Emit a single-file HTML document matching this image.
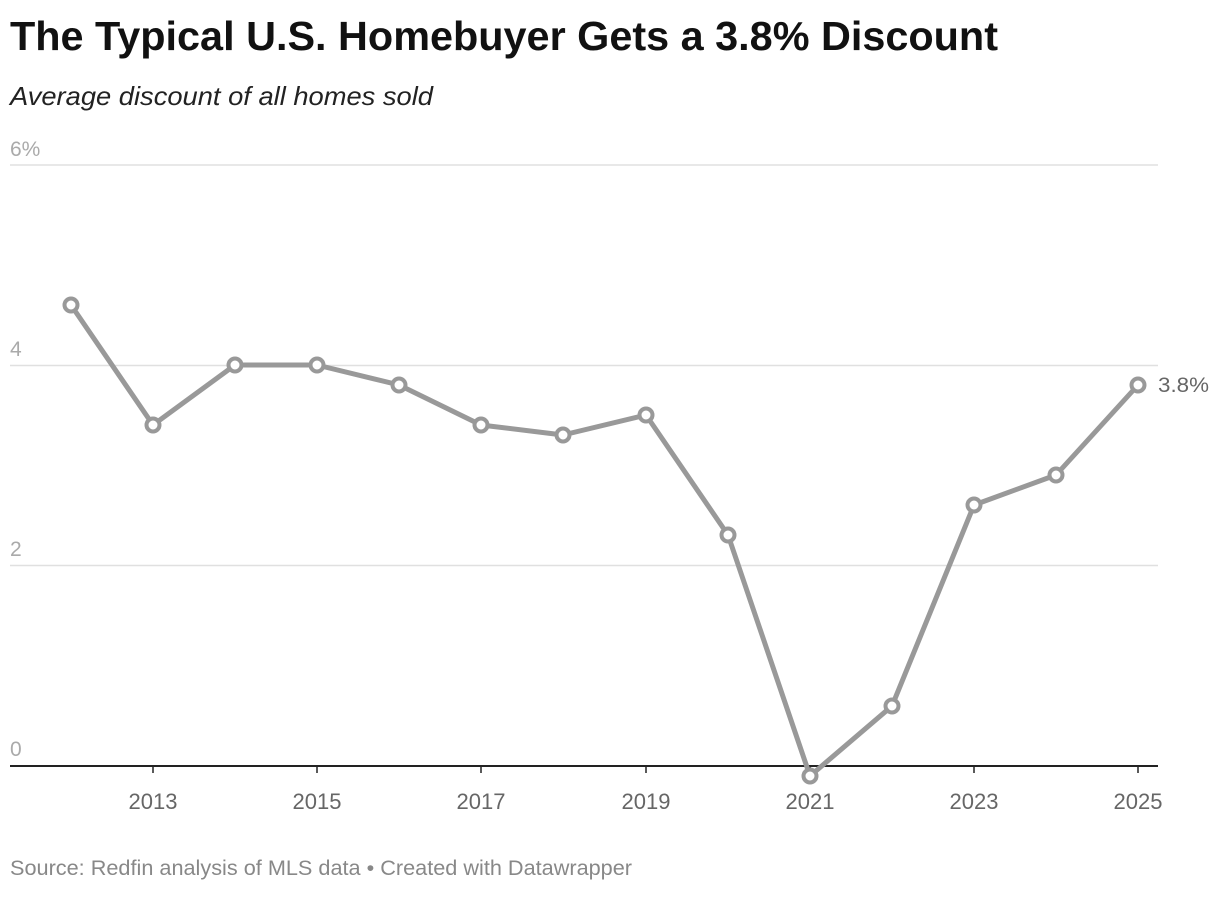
<!DOCTYPE html>
<html><head><style>
body{margin:0;background:#fff;width:1220px;height:892px;overflow:hidden;font-family:"Liberation Sans",sans-serif;}
</style></head><body>
<svg width="1220" height="892" xmlns="http://www.w3.org/2000/svg" font-family="Liberation Sans, sans-serif">
<text x="10" y="50" font-size="41" font-weight="bold" fill="#111" textLength="988" lengthAdjust="spacingAndGlyphs">The Typical U.S. Homebuyer Gets a 3.8% Discount</text>
<text x="10" y="105" font-size="26" font-style="italic" fill="#222" textLength="423" lengthAdjust="spacingAndGlyphs">Average discount of all homes sold</text>
<g stroke="#e0e0e0" stroke-width="1.5">
<line x1="10" x2="1158" y1="165" y2="165"/>
<line x1="10" x2="1158" y1="365.5" y2="365.5"/>
<line x1="10" x2="1158" y1="565.5" y2="565.5"/>
</g>
<g font-size="21" fill="#aaa">
<text x="10" y="156">6%</text>
<text x="10" y="356">4</text>
<text x="10" y="556">2</text>
<text x="10" y="756">0</text>
</g>
<line x1="10" x2="1158" y1="766" y2="766" stroke="#222" stroke-width="2"/>
<g stroke="#222" stroke-width="1.5">
<line x1="153" x2="153" y1="766" y2="773"/><line x1="317" x2="317" y1="766" y2="773"/>
<line x1="481" x2="481" y1="766" y2="773"/><line x1="646" x2="646" y1="766" y2="773"/>
<line x1="810" x2="810" y1="766" y2="773"/><line x1="974" x2="974" y1="766" y2="773"/>
<line x1="1138" x2="1138" y1="766" y2="773"/>
</g>
<g font-size="22" fill="#666" text-anchor="middle">
<text x="153" y="809">2013</text><text x="317" y="809">2015</text><text x="481" y="809">2017</text>
<text x="646" y="809">2019</text><text x="810" y="809">2021</text><text x="974" y="809">2023</text>
<text x="1138" y="809">2025</text>
</g>
<polyline fill="none" stroke="#999" stroke-width="5" stroke-linejoin="round" points="71,305 153,425 235,365 317,365 399,385 481,425 563,435 646,415 728,535 810,776 892,706 974,505 1056,475 1138,385"/>
<g fill="#fff" stroke="#999" stroke-width="4">
<circle cx="71" cy="305" r="6.5"/><circle cx="153" cy="425" r="6.5"/><circle cx="235" cy="365" r="6.5"/>
<circle cx="317" cy="365" r="6.5"/><circle cx="399" cy="385" r="6.5"/><circle cx="481" cy="425" r="6.5"/>
<circle cx="563" cy="435" r="6.5"/><circle cx="646" cy="415" r="6.5"/><circle cx="728" cy="535" r="6.5"/>
<circle cx="810" cy="776" r="6.5"/><circle cx="892" cy="706" r="6.5"/><circle cx="974" cy="505" r="6.5"/>
<circle cx="1056" cy="475" r="6.5"/><circle cx="1138" cy="385" r="6.5"/>
</g>
<text x="1158" y="392" font-size="21" fill="#666" textLength="51" lengthAdjust="spacingAndGlyphs">3.8%</text>
<text x="10" y="875" font-size="21" fill="#888" textLength="622" lengthAdjust="spacingAndGlyphs">Source: Redfin analysis of MLS data • Created with Datawrapper</text>
</svg>
</body></html>
